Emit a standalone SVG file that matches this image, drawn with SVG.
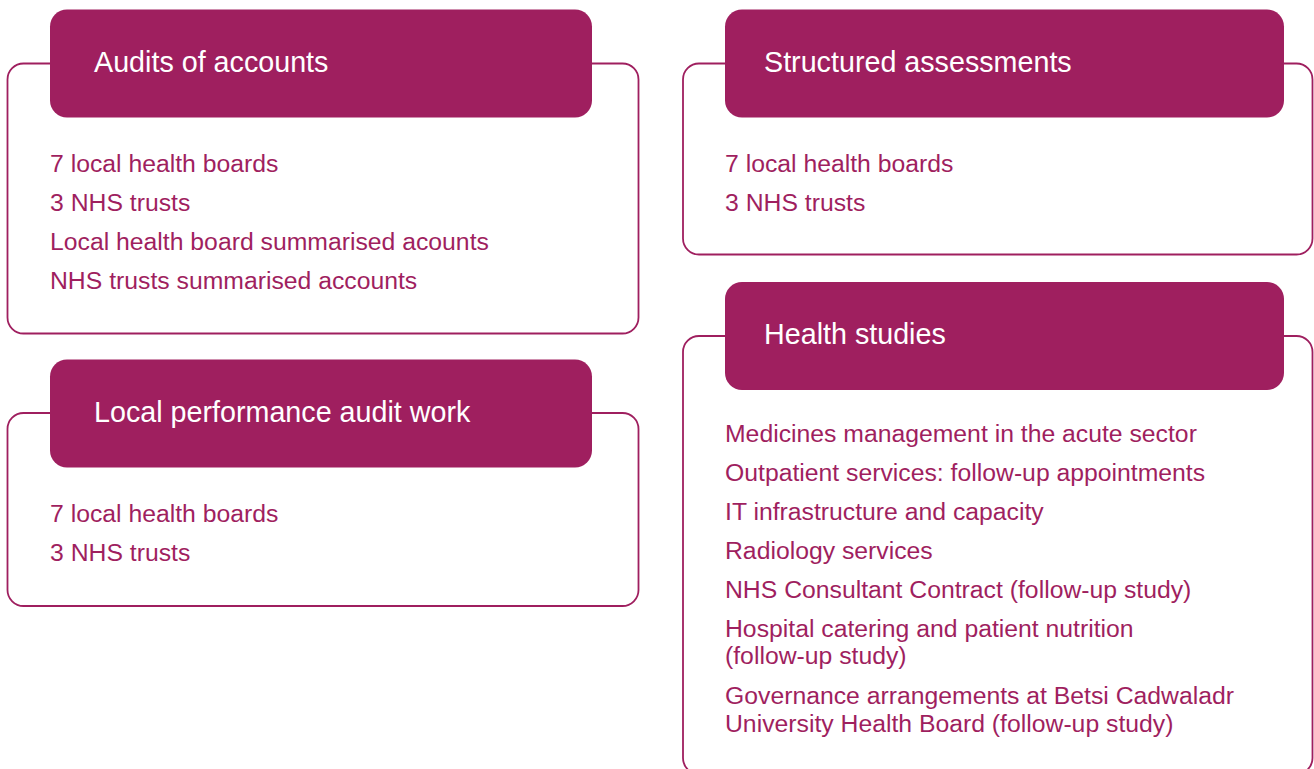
<svg xmlns="http://www.w3.org/2000/svg" width="1314" height="769" viewBox="0 0 1314 769">
<style>
.frame{fill:#fff;stroke:#9f1f5f;stroke-width:1.8}
.head{fill:#9f1f5f}
.title{font-family:"Liberation Sans",Arial,sans-serif;font-size:28.7px;fill:#fff}
.item{font-family:"Liberation Sans",Arial,sans-serif;font-size:24.75px;fill:#9f1f5f}
</style>
<rect width="1314" height="769" fill="#fff"/>
<g id="audits-of-accounts">
<rect class="frame" x="7.5" y="63.5" width="631" height="270" rx="16"/>
<rect class="head" x="50" y="9.5" width="542" height="108" rx="17"/>
<text class="title" x="94" y="72">Audits of accounts</text>
<text class="item" x="50" y="171.5">7 local health boards</text>
<text class="item" x="50" y="210.5">3 NHS trusts</text>
<text class="item" x="50" y="249.5">Local health board summarised acounts</text>
<text class="item" x="50" y="288.5">NHS trusts summarised accounts</text>
</g>
<g id="local-performance-audit-work">
<rect class="frame" x="7.5" y="413" width="631" height="193" rx="16"/>
<rect class="head" x="50" y="359.5" width="542" height="108" rx="17"/>
<text class="title" x="94" y="422">Local performance audit work</text>
<text class="item" x="50" y="521.5">7 local health boards</text>
<text class="item" x="50" y="560.5">3 NHS trusts</text>
</g>
<g id="structured-assessments">
<rect class="frame" x="683" y="63.5" width="629.5" height="191" rx="16"/>
<rect class="head" x="725" y="9.5" width="559" height="108" rx="17"/>
<text class="title" x="764" y="72">Structured assessments</text>
<text class="item" x="725" y="171.5">7 local health boards</text>
<text class="item" x="725" y="210.5">3 NHS trusts</text>
</g>
<g id="health-studies">
<rect class="frame" x="683" y="336" width="629.5" height="438" rx="16"/>
<rect class="head" x="725" y="282" width="559" height="108" rx="17"/>
<text class="title" x="764" y="343.5">Health studies</text>
<text class="item" x="725" y="441.5">Medicines management in the acute sector</text>
<text class="item" x="725" y="480.5">Outpatient services: follow-up appointments</text>
<text class="item" x="725" y="519.5">IT infrastructure and capacity</text>
<text class="item" x="725" y="558.5">Radiology services</text>
<text class="item" x="725" y="597.5">NHS Consultant Contract (follow-up study)</text>
<text class="item" x="725" y="636.5">Hospital catering and patient nutrition</text>
<text class="item" x="725" y="664">(follow-up study)</text>
<text class="item" x="725" y="703.5">Governance arrangements at Betsi Cadwaladr</text>
<text class="item" x="725" y="731.5">University Health Board (follow-up study)</text>
</g>
<g id="connectors"></g>
</svg>
